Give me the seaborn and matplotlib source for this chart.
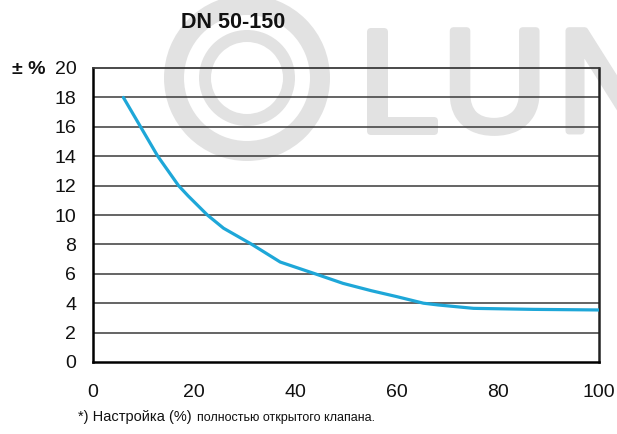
import numpy as np
import matplotlib
matplotlib.use("Agg")
import matplotlib.pyplot as plt
import matplotlib.patheffects as pe
import seaborn as sns
import pandas as pd
from matplotlib.patches import Wedge

# valve setting (% of fully open) vs. tolerance (+/- %)
setting = [6, 9.4, 12.8, 16.9, 18.8, 22.6, 25.8, 31.4, 37, 43.9,
           49.4, 55, 60, 65.3, 68.2, 75.2, 87, 100]
tolerance = [18, 16, 14, 12, 11.3, 10, 9.1, 8, 6.8, 6,
             5.35, 4.85, 4.45, 4.0, 3.88, 3.65, 3.58, 3.54]
x_ticks = [0, 20, 40, 60, 80, 100]
y_ticks = [0, 2, 4, 6, 8, 10, 12, 14, 16, 18, 20]

title = "DN 50-150"
y_label = "± %"
note_a = "*) Настройка (%)"
note_b = "полностью открытого клапана."

sns.set_theme(style="white")
plt.rcParams['font.family'] = ['Liberation Sans', 'DejaVu Sans']

df = pd.DataFrame({"setting": setting, "tolerance": tolerance})

W, H = 617, 434
fig = plt.figure(figsize=(W / 100, H / 100), dpi=100)
fig.patch.set_facecolor("white")

#%% watermark in the background
wm = "#e2e2e2"
bg = fig.add_axes([0, 0, 1, 1], zorder=0)
bg.set_xlim(0, W)
bg.set_ylim(H, 0)
bg.set_aspect("equal")
bg.axis("off")
cx, cy = 247, 78
bg.add_patch(Wedge((cx, cy), 83, 0, 360, width=20, color=wm, lw=0))
bg.add_patch(Wedge((cx, cy), 48, 0, 360, width=12, color=wm, lw=0))
for ch, px in zip("LUN", [358, 442, 557]):
    bg.text(px, 131, ch, fontsize=105, color=wm, ha="left", va="baseline",
            path_effects=[pe.withStroke(linewidth=5, foreground=wm)])

#%% chart
ax = fig.add_axes([93 / W, 1 - 362 / H, (599 - 93) / W, (362 - 68) / H],
                  zorder=1)
ax.set_facecolor("none")
sns.lineplot(data=df, x="setting", y="tolerance", ax=ax,
             color="#1ea7d8", linewidth=2.3, zorder=3)

ax.set_xlim(0, 100)
ax.set_ylim(0, 20)
ax.set_xticks(x_ticks)
ax.set_yticks(y_ticks)
ax.set_xlabel("")
ax.set_ylabel("")
for y in y_ticks[1:-1]:
    ax.axhline(y, color="#3a3a3a", linewidth=1.1, zorder=2)

for s in ["left", "bottom"]:
    ax.spines[s].set_color("black")
    ax.spines[s].set_linewidth(1.8)
ax.spines["right"].set_color("#222222")
ax.spines["right"].set_linewidth(1.8)
ax.spines["top"].set_color("#3a3a3a")
ax.spines["top"].set_linewidth(1.3)

ax.tick_params(axis="both", which="major", direction="out", length=5,
               width=1.3, color="black", labelsize=14, labelcolor="#111111")
ax.tick_params(axis="x", pad=11)
ax.tick_params(axis="y", pad=7)

fig.text(233 / W, 1 - 23 / H, title, ha="center", va="center",
         fontsize=15.5, fontweight="bold", color="#111111")
fig.text(12 / W, 1 - 70 / H, y_label, ha="left", va="center",
         fontsize=14, fontweight="bold", color="#111111")
fig.text(78 / W, 1 - 417 / H, note_a, ha="left", va="center",
         fontsize=10.5, color="#111111")
fig.text(197 / W, 1 - 418 / H, note_b, ha="left", va="center",
         fontsize=9, color="#111111")

fig.savefig("out.png", dpi=100)
